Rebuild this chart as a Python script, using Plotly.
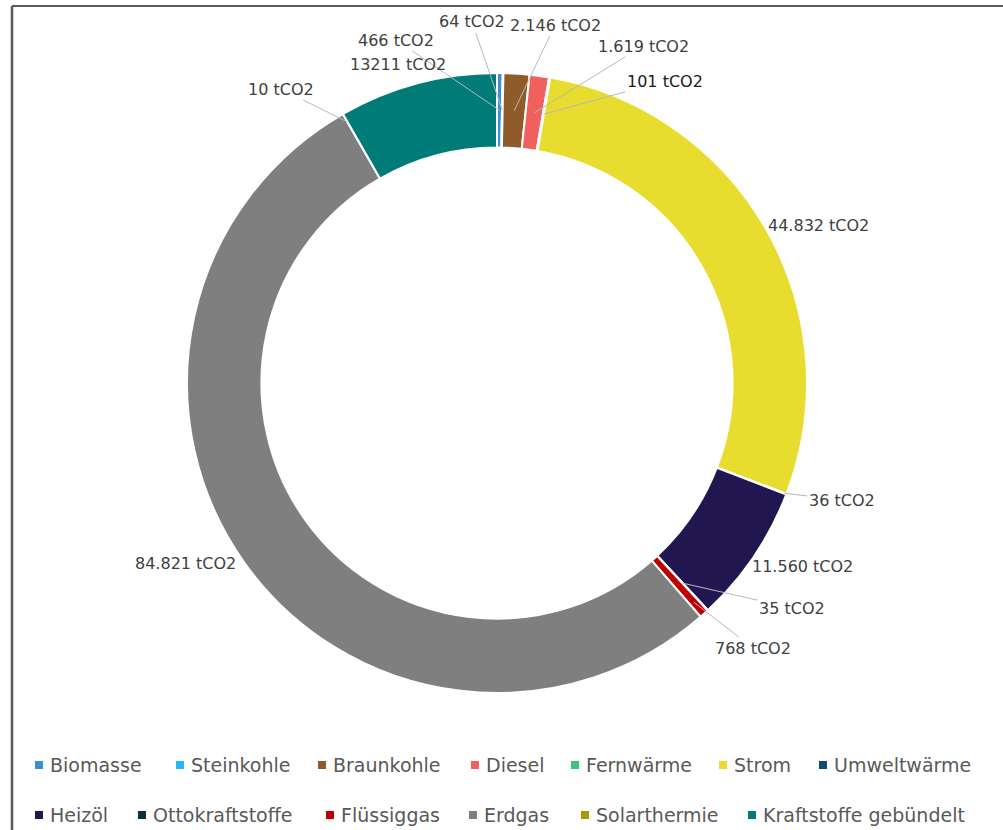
import math
import plotly.graph_objects as go

# ---------------- data ----------------
categories = ["Biomasse", "Steinkohle", "Braunkohle", "Diesel", "Fernwärme", "Strom",
              "Umweltwärme", "Heizöl", "Ottokraftstoffe", "Flüssiggas", "Erdgas",
              "Solarthermie", "Kraftstoffe gebündelt"]
values = [466, 64, 2146, 1619, 101, 44832, 36, 11560, 35, 768, 84821, 10, 13211]
value_labels = ["466 tCO2", "64 tCO2", "2.146 tCO2", "1.619 tCO2", "101 tCO2",
                "44.832 tCO2", "36 tCO2", "11.560 tCO2", "35 tCO2", "768 tCO2",
                "84.821 tCO2", "10 tCO2", "13211 tCO2"]

# ---------------- styles ----------------
colors = ["#3a8fd0", "#27b8ef", "#8f5b2b", "#f0605d", "#3cc47c", "#e8dc2e",
          "#0f4a6e", "#21164f", "#0c2f3e", "#c00000", "#7f7f7f", "#a39a0a", "#007b78"]
label_colors = ["#404040"] * 4 + ["#1a1a1a"] + ["#404040"] * 8

W, H = 1003, 830
CX, CY, R = 497, 383, 310
HOLE = 0.76

# label text centres (px) and leader-line settings (layout only)
label_pos = [(396, 40), (472, 22), (555, 25), (643, 46), (665, 81), (818, 226),
             (842, 500), (802, 566), (792, 608), (753, 648), (185, 563),
             (281, 89), (398, 64)]
leader = [True, True, True, True, True, False, True, False, True, True, False, True, False]
anchor_r = [0.88, 0.88, 0.88, 0.88, 0.88, 0.88, 0.99, 0.88, 0.88, 0.95, 0.88, 0.97, 0.88]

# legend layout (rows of category indices, square x centres)
legend_rows = [([0, 1, 2, 3, 4, 5, 6], 765), ([7, 8, 9, 10, 11, 12], 815)]
legend_sq_x = {0: 39, 1: 180, 2: 322, 3: 475, 4: 575, 5: 723, 6: 823,
               7: 39, 8: 142, 9: 330, 10: 473, 11: 585, 12: 752}

FONT = "DejaVu Sans"

fig = go.Figure()
fig.add_trace(go.Pie(
    labels=categories, values=values, sort=False, direction="clockwise",
    rotation=0, hole=HOLE, textinfo="none", hoverinfo="label+value",
    marker=dict(colors=colors, line=dict(color="white", width=2)),
    domain=dict(x=[(CX - R) / W, (CX + R) / W], y=[1 - (CY + R) / H, 1 - (CY - R) / H]),
    showlegend=False,
))

total = sum(values)
annotations = []
cum = 0
for i, v in enumerate(values):
    mid = (cum + v / 2) / total * 2 * math.pi
    cum += v
    r = R * anchor_r[i]
    axp = CX + r * math.sin(mid)
    ayp = CY - r * math.cos(mid)
    tx, ty = label_pos[i]
    if leader[i]:
        annotations.append(dict(
            x=axp / W, y=1 - ayp / H, xref="paper", yref="paper",
            text=value_labels[i], showarrow=True, arrowhead=0, arrowwidth=1,
            arrowcolor="#b8b8b8", standoff=0, ax=tx - axp, ay=ty - ayp,
            font=dict(family=FONT, size=16, color=label_colors[i]),
        ))
    else:
        annotations.append(dict(
            x=tx / W, y=1 - ty / H, xref="paper", yref="paper",
            text=value_labels[i], showarrow=False, xanchor="center", yanchor="middle",
            font=dict(family=FONT, size=16, color=label_colors[i]),
        ))

shapes = []
for row, ly in legend_rows:
    for i in row:
        sx = legend_sq_x[i]
        shapes.append(dict(type="rect", xref="paper", yref="paper",
                           x0=(sx - 4) / W, x1=(sx + 4) / W,
                           y0=1 - (ly + 4) / H, y1=1 - (ly - 4) / H,
                           fillcolor=colors[i], line=dict(width=0)))
        annotations.append(dict(
            x=(sx + 9) / W, y=1 - ly / H, xref="paper", yref="paper",
            text=categories[i], showarrow=False, xanchor="left", yanchor="middle",
            font=dict(family=FONT, size=19, color="#595959"),
        ))

# frame lines
shapes.append(dict(type="line", xref="paper", yref="paper", x0=12 / W, x1=1.0,
                   y0=1 - 6 / H, y1=1 - 6 / H, line=dict(color="#5a5a5a", width=2)))
shapes.append(dict(type="line", xref="paper", yref="paper", x0=12 / W, x1=12 / W,
                   y0=1 - 6 / H, y1=0, line=dict(color="#5a5a5a", width=2.5)))

fig.update_layout(
    width=W, height=H, margin=dict(l=0, r=0, t=0, b=0),
    paper_bgcolor="white", plot_bgcolor="white",
    annotations=annotations, shapes=shapes,
    font=dict(family=FONT),
)

fig.write_html("out.html")
